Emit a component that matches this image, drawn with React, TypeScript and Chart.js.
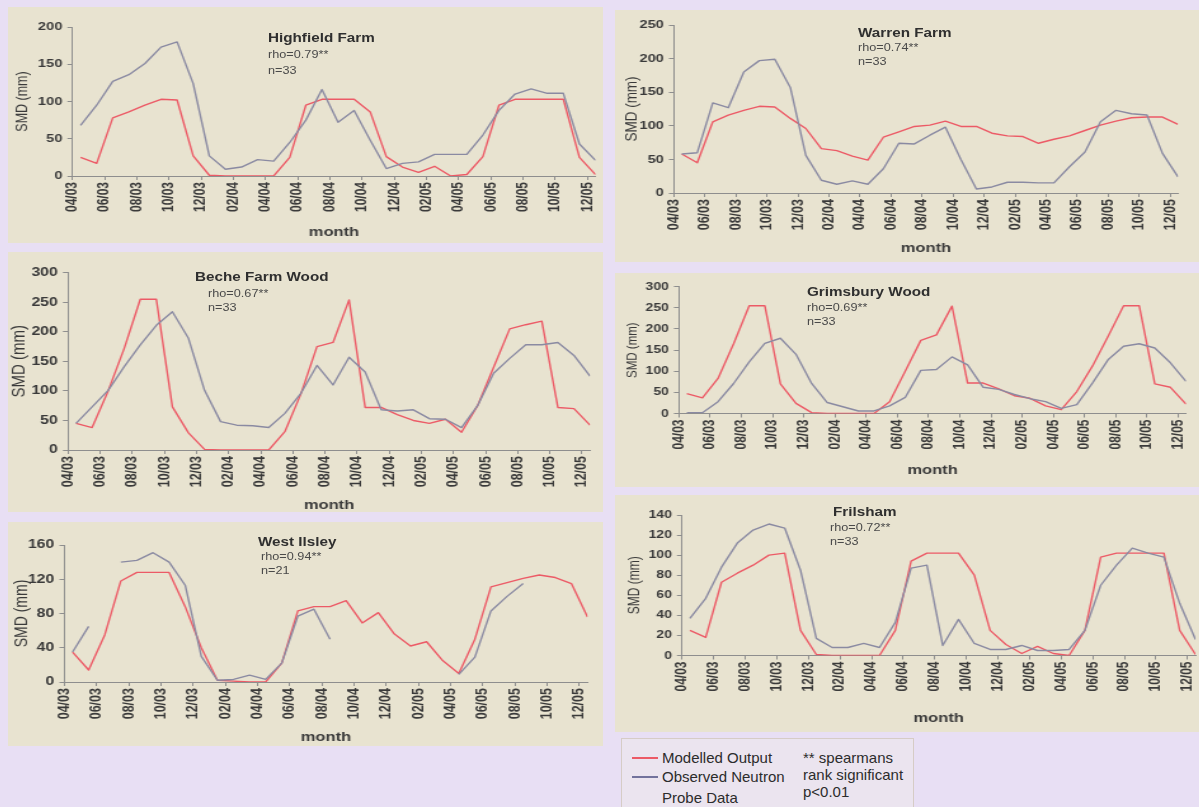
import React, { useEffect, useRef } from "react";
import { Chart, registerables } from "chart.js";

Chart.register(...registerables);

// Monthly series, April 2003 to December 2005
const MONTHS = [
  "04/03", "05/03", "06/03", "07/03", "08/03", "09/03", "10/03", "11/03", "12/03",
  "01/04", "02/04", "03/04", "04/04", "05/04", "06/04", "07/04", "08/04", "09/04", "10/04", "11/04", "12/04",
  "01/05", "02/05", "03/05", "04/05", "05/05", "06/05", "07/05", "08/05", "09/05", "10/05", "11/05", "12/05",
];
const MONTH_TICKS = MONTHS.filter((_, i) => i % 2 === 0);

// Soil moisture deficit (mm): modelled output vs neutron probe observations
const HIGHFIELD_MODELLED = [25, 17, 78, 86, 95, 103, 102, 27, 1, 0, 0, 0, 0, 25, 95, 103, 103, 103, 86, 26, 12, 5, 13, 0, 2, 26, 95, 103, 103, 103, 103, 25, 2];
const HIGHFIELD_OBSERVED = [68, 95, 127, 136, 151, 173, 180, 124, 27, 9, 12, 22, 20, 45, 75, 116, 72, 88, 48, 10, 17, 19, 29, 29, 29, 55, 88, 110, 117, 111, 111, 43, 21];

const WARREN_MODELLED = [58, 45, 106, 116, 123, 129, 128, 111, 96, 66, 63, 55, 49, 83, 91, 99, 101, 107, 99, 99, 89, 85, 84, 74, 80, 85, 93, 101, 107, 112, 113, 113, 102];
const WARREN_OBSERVED = [58, 60, 134, 127, 180, 197, 199, 157, 56, 19, 13, 18, 13, 36, 74, 73, 86, 98, 50, 6, 9, 16, 16, 15, 15, 39, 61, 106, 123, 118, 116, 59, 24];

const BECHE_MODELLED = [45, 38, 100, 172, 255, 255, 73, 29, 1, 0, 0, 0, 0, 31, 95, 175, 182, 254, 72, 72, 60, 50, 45, 52, 30, 75, 140, 205, 212, 218, 72, 70, 42];
const BECHE_OBSERVED = [45, 73, 101, 141, 178, 211, 234, 189, 101, 48, 42, 41, 38, 62, 96, 143, 110, 157, 132, 68, 66, 68, 53, 52, 38, 75, 130, 155, 178, 178, 182, 160, 125];

const GRIMSBURY_MODELLED = [47, 37, 83, 165, 255, 255, 70, 24, 2, 0, 0, 0, 0, 28, 100, 173, 186, 254, 72, 72, 58, 42, 36, 18, 9, 52, 112, 182, 255, 255, 70, 62, 22];
const GRIMSBURY_OBSERVED = [2, 2, 28, 71, 122, 166, 178, 140, 71, 26, 16, 6, 6, 18, 38, 102, 104, 134, 115, 62, 57, 45, 35, 28, 12, 21, 72, 127, 159, 165, 155, 120, 76];

const WEST_ILSLEY_MODELLED = [35, 14, 55, 118, 128, 128, 128, 88, 40, 2, 1, 0, 0, 22, 83, 88, 88, 95, 69, 81, 56, 42, 47, 25, 10, 50, 111, 116, 121, 125, 122, 115, 76];
const WEST_ILSLEY_OBSERVED = [35, 65, null, 140, 142, 151, 140, 113, 30, 2, 3, 8, 3, 22, 77, 85, 50, null, null, null, null, null, null, null, 9, 29, 83, 100, 115, null, null, null, null];

const FRILSHAM_MODELLED = [25, 18, 73, 82, 90, 100, 102, 25, 1, 0, 0, 0, 0, 25, 94, 102, 102, 102, 80, 25, 11, 2, 9, 2, 0, 25, 98, 102, 102, 102, 102, 25, 1];
const FRILSHAM_OBSERVED = [37, 57, 88, 112, 125, 131, 127, 85, 17, 8, 8, 12, 8, 33, 87, 90, 10, 36, 12, 6, 6, 10, 5, 5, 6, 25, 70, 90, 107, 102, 98, 52, 16];

const FONT = "'Liberation Sans', Arial, Helvetica, sans-serif";
const PAGE = "#e8dff4";
const PANEL = "#e8e3d0";
const INK = "#3a3a3a";
const AXIS = "#8e8e8e";
const RED = "#ec5a66";
const GREY = "#8a8aa2";
const STRETCH = 1.27; // horizontal stretch of each chart panel

type Site = {
  name: string;
  rho: string;
  n: string;
  modelled: (number | null)[];
  observed: (number | null)[];
  yMax: number;
  yStep: number;
  box: [number, number, number, number]; // left, top, width, height
  plot: [number, number, number, number]; // axis left, top, right, bottom
  yTitleX: number;
  yTitleSize: number;
  xTitleY: number;
  yTickSize: number;
  xTickSize: number;
  label: { x: number; y: number; subX: number; subY: number; nY: number };
};

const SITES: Site[] = [
  {
    name: "Highfield Farm", rho: "rho=0.79**", n: "n=33",
    modelled: HIGHFIELD_MODELLED, observed: HIGHFIELD_OBSERVED,
    yMax: 200, yStep: 50,
    box: [8, 7, 595, 236], plot: [72.5, 27, 595.5, 176],
    yTitleX: 23, yTitleSize: 12.5, xTitleY: 232, yTickSize: 11.5, xTickSize: 12,
    label: { x: 268, y: 38, subX: 268, subY: 55, nY: 71 },
  },
  {
    name: "Warren Farm", rho: "rho=0.74**", n: "n=33",
    modelled: WARREN_MODELLED, observed: WARREN_OBSERVED,
    yMax: 250, yStep: 50,
    box: [615, 10, 584, 252], plot: [674, 25, 1178, 193],
    yTitleX: 632, yTitleSize: 13.5, xTitleY: 248, yTickSize: 11.5, xTickSize: 12.5,
    label: { x: 858, y: 33, subX: 858, subY: 48, nY: 62 },
  },
  {
    name: "Beche Farm Wood", rho: "rho=0.67**", n: "n=33",
    modelled: BECHE_MODELLED, observed: BECHE_OBSERVED,
    yMax: 300, yStep: 50,
    box: [8, 252, 595, 260], plot: [68, 272.7, 590, 450],
    yTitleX: 19, yTitleSize: 15, xTitleY: 505, yTickSize: 12.5, xTickSize: 12.5,
    label: { x: 195, y: 277, subX: 208, subY: 294, nY: 308 },
  },
  {
    name: "Grimsbury Wood", rho: "rho=0.69**", n: "n=33",
    modelled: GRIMSBURY_MODELLED, observed: GRIMSBURY_OBSERVED,
    yMax: 300, yStep: 50,
    box: [615, 273, 584, 214], plot: [679, 286.7, 1186, 413.5],
    yTitleX: 632, yTitleSize: 11.5, xTitleY: 470, yTickSize: 11, xTickSize: 12,
    label: { x: 807, y: 292, subX: 807, subY: 308, nY: 322 },
  },
  {
    name: "West Ilsley", rho: "rho=0.94**", n: "n=21",
    modelled: WEST_ILSLEY_MODELLED, observed: WEST_ILSLEY_OBSERVED,
    yMax: 160, yStep: 40,
    box: [8, 522, 595, 224], plot: [64.5, 545, 587.5, 682],
    yTitleX: 22, yTitleSize: 14, xTitleY: 737, yTickSize: 12.5, xTickSize: 12.5,
    label: { x: 258, y: 542, subX: 261, subY: 557, nY: 571 },
  },
  {
    name: "Frilsham", rho: "rho=0.72**", n: "n=33",
    modelled: FRILSHAM_MODELLED, observed: FRILSHAM_OBSERVED,
    yMax: 140, yStep: 20,
    box: [615, 495, 600, 237], plot: [682, 515, 1195.5, 655.5],
    yTitleX: 635, yTitleSize: 12, xTitleY: 718, yTickSize: 11, xTickSize: 12,
    label: { x: 833, y: 512, subX: 830, subY: 528, nY: 542 },
  },
];

// Each value sits at mid-month on a linear month axis
const toPoints = (values: (number | null)[]) =>
  values.map((v, i) => ({ x: i + 0.5, y: v }));

function SitePanel({ site }: { site: Site }) {
  const ref = useRef<HTMLCanvasElement | null>(null);
  const [L, T, W, H] = site.box;
  const cw = Math.round(W / STRETCH);

  useEffect(() => {
    const [pl, pt, pr, pb] = site.plot;
    const axisLeft = (pl - L) / STRETCH;
    const axisRight = (pr - L) / STRETCH;
    const yTitleLH = site.yTitleSize * 1.2;
    const xTitleSize = 13;
    const xTitleLH = xTitleSize * 1.2;

    const chart = new Chart(ref.current as HTMLCanvasElement, {
      type: "line",
      data: {
        datasets: [
          {
            label: "Observed Neutron Probe Data",
            data: toPoints(site.observed) as any,
            borderColor: GREY,
            borderWidth: 1.4,
            pointRadius: 0,
            tension: 0,
            spanGaps: false,
            borderJoinStyle: "round",
          },
          {
            label: "Modelled Output",
            data: toPoints(site.modelled) as any,
            borderColor: RED,
            borderWidth: 1.4,
            pointRadius: 0,
            tension: 0,
            borderJoinStyle: "round",
          },
        ],
      },
      options: {
        animation: false,
        responsive: false,
        events: [],
        layout: { padding: { left: 0, top: pt - T, right: cw - axisRight, bottom: 0 } },
        plugins: { legend: { display: false }, tooltip: { enabled: false } },
        scales: {
          x: {
            type: "linear",
            min: 0,
            max: MONTHS.length - 0.5,
            afterBuildTicks: (s: any) => {
              s.ticks = MONTH_TICKS.map((_, k) => ({ value: k * 2 }));
            },
            afterFit: (s: any) => {
              s.height = H - (pb - T);
              s.paddingLeft = 0;
              s.paddingRight = 0;
            },
            grid: { drawOnChartArea: false, drawTicks: true, tickLength: 4, color: AXIS },
            border: { display: true, color: AXIS, width: 1 },
            ticks: {
              autoSkip: false,
              minRotation: 90,
              maxRotation: 90,
              padding: 2,
              color: INK,
              font: { family: FONT, size: site.xTickSize, weight: "bold" },
              callback: (_v: any, i: number) => MONTH_TICKS[i],
            },
            title: {
              display: true,
              text: "month",
              color: INK,
              font: { family: FONT, size: xTitleSize, weight: "bold" },
              padding: { top: 0, bottom: H - (site.xTitleY - T) - xTitleLH / 2 },
            },
          },
          y: {
            min: 0,
            max: site.yMax,
            afterFit: (s: any) => {
              s.width = axisLeft;
              s.paddingTop = 0;
              s.paddingBottom = 0;
            },
            grid: { drawOnChartArea: false, drawTicks: true, tickLength: 4, color: AXIS },
            border: { display: true, color: AXIS, width: 1 },
            ticks: {
              stepSize: site.yStep,
              padding: 4,
              color: INK,
              font: { family: FONT, size: site.yTickSize, weight: "bold" },
            },
            title: {
              display: true,
              text: "SMD (mm)",
              color: INK,
              font: { family: FONT, size: site.yTitleSize },
              padding: { top: (site.yTitleX - L) / STRETCH - yTitleLH / 2, bottom: 0 },
            },
          },
        },
      } as any,
    });
    return () => chart.destroy();
  }, []);

  const textStyle = (x: number, cy: number, size: number, bold: boolean): React.CSSProperties => ({
    position: "absolute",
    left: x - L,
    top: cy - T - 7,
    height: 14,
    lineHeight: "14px",
    fontFamily: FONT,
    fontSize: size,
    fontWeight: bold ? "bold" : "normal",
    color: bold ? "#2f2f2f" : "#4a4a4a",
    whiteSpace: "nowrap",
    transform: `scaleX(${STRETCH})`,
    transformOrigin: "0 50%",
  });

  return (
    <div
      style={{
        position: "absolute",
        left: L,
        top: T,
        width: W,
        height: H,
        background: PANEL,
        overflow: "hidden",
      }}
    >
      <canvas
        ref={ref}
        width={cw}
        height={H}
        style={{
          position: "absolute",
          left: 0,
          top: 0,
          width: cw,
          height: H,
          transform: `scaleX(${STRETCH})`,
          transformOrigin: "0 0",
        }}
      />
      <div style={textStyle(site.label.x, site.label.y, 12, true)}>{site.name}</div>
      <div style={textStyle(site.label.subX, site.label.subY, 10, false)}>{site.rho}</div>
      <div style={textStyle(site.label.subX, site.label.nY, 10, false)}>{site.n}</div>
    </div>
  );
}

function Legend() {
  const row = (top: number): React.CSSProperties => ({
    position: "absolute",
    top: top - 738 - 9,
    height: 18,
    lineHeight: "18px",
    fontFamily: FONT,
    fontSize: 15,
    color: "#2c2c2c",
    whiteSpace: "nowrap",
  });
  const swatch = (top: number, color: string): React.CSSProperties => ({
    position: "absolute",
    left: 631 - 621,
    top: top - 738 - 1,
    width: 26,
    height: 2,
    background: color,
  });
  return (
    <div
      style={{
        position: "absolute",
        left: 621,
        top: 738,
        width: 293,
        height: 80,
        boxSizing: "border-box",
        background: "#ebe4ef",
        border: "1px solid #d6ccc6",
      }}
    >
      <div style={swatch(757, RED)} />
      <div style={swatch(776, "#72729c")} />
      <div style={{ ...row(757), left: 661 - 621 }}>Modelled Output</div>
      <div style={{ ...row(776), left: 661 - 621 }}>Observed Neutron</div>
      <div style={{ ...row(797), left: 661 - 621 }}>Probe Data</div>
      <div style={{ ...row(757), left: 802 - 621 }}>** spearmans</div>
      <div style={{ ...row(774), left: 802 - 621 }}>rank significant</div>
      <div style={{ ...row(791), left: 802 - 621 }}>p&lt;0.01</div>
    </div>
  );
}

export default function App() {
  return (
    <div
      style={{
        position: "fixed",
        left: 0,
        top: 0,
        width: 1199,
        height: 807,
        overflow: "hidden",
        background: PAGE,
      }}
    >
      {SITES.map((s) => (
        <SitePanel key={s.name} site={s} />
      ))}
      <Legend />
    </div>
  );
}
